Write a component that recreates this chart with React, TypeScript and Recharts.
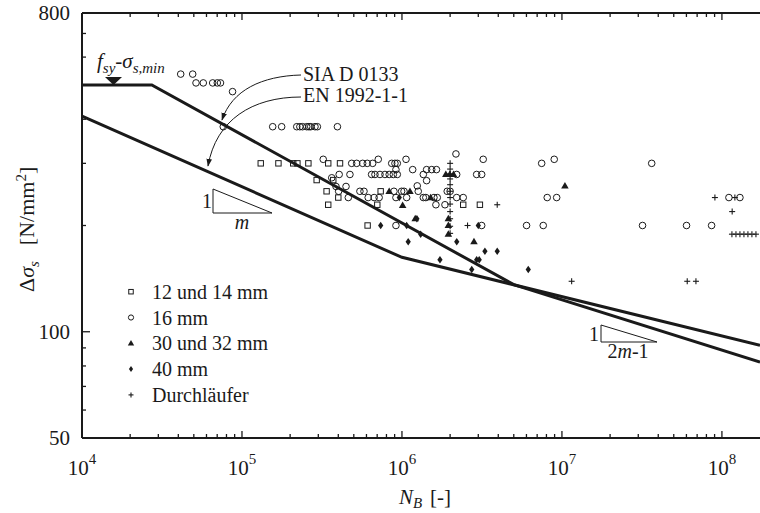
import React from "react";
import { ScatterChart, Scatter, XAxis, YAxis } from "recharts";

// fatigue tests: N_B [-] against stress range [N/mm2]
const squares12_14 = [
  { n: 131000, s: 300 }, { n: 169000, s: 300 }, { n: 209000, s: 300 }, { n: 222000, s: 300 },
  { n: 260000, s: 300 }, { n: 346000, s: 300 }, { n: 410000, s: 300 },
  { n: 293000, s: 269 }, { n: 372000, s: 269 },
  { n: 338000, s: 250 }, { n: 400000, s: 240 }, { n: 346000, s: 229 },
  { n: 736000, s: 250 }, { n: 701000, s: 229 }, { n: 610000, s: 200 },
  { n: 2415000, s: 229 }, { n: 3070000, s: 229 },
];

const circles16 = [
  { n: 41400, s: 537 }, { n: 49200, s: 537 },
  { n: 51600, s: 507 }, { n: 57300, s: 507 }, { n: 65600, s: 507 }, { n: 70100, s: 507 }, { n: 73400, s: 507 },
  { n: 87300, s: 479 }, { n: 76400, s: 381 },
  { n: 155600, s: 381 }, { n: 177000, s: 381 }, { n: 220000, s: 381 }, { n: 230000, s: 381 },
  { n: 239000, s: 381 }, { n: 254000, s: 381 }, { n: 262000, s: 381 }, { n: 269000, s: 381 },
  { n: 286000, s: 381 }, { n: 296000, s: 381 }, { n: 395000, s: 381 },
  { n: 322000, s: 308 }, { n: 711000, s: 308 }, { n: 1060000, s: 308 }, { n: 3220000, s: 308 },
  { n: 2175000, s: 319 }, { n: 8950000, s: 308 },
  { n: 485000, s: 300 }, { n: 521000, s: 300 }, { n: 568000, s: 300 }, { n: 607000, s: 300 },
  { n: 656000, s: 300 }, { n: 863000, s: 300 }, { n: 904000, s: 300 }, { n: 935000, s: 300 },
  { n: 7470000, s: 300 }, { n: 36400000, s: 300 },
  { n: 917000, s: 288 }, { n: 1167000, s: 288 }, { n: 1426000, s: 288 }, { n: 1534000, s: 288 }, { n: 1643000, s: 288 },
  { n: 1360000, s: 279 }, { n: 1426000, s: 268 },
  { n: 405000, s: 279 }, { n: 473000, s: 279 }, { n: 646000, s: 279 }, { n: 678000, s: 279 },
  { n: 729000, s: 279 }, { n: 783000, s: 279 }, { n: 832000, s: 279 }, { n: 883000, s: 279 },
  { n: 935000, s: 279 }, { n: 2198000, s: 279 }, { n: 2930000, s: 279 }, { n: 3150000, s: 279 },
  { n: 364000, s: 273 }, { n: 387000, s: 258 }, { n: 447000, s: 258 }, { n: 1246000, s: 259 },
  { n: 402000, s: 250 }, { n: 546000, s: 250 }, { n: 579000, s: 250 }, { n: 891000, s: 250 },
  { n: 995000, s: 250 }, { n: 1030000, s: 250 }, { n: 1264000, s: 250 }, { n: 1918000, s: 250 }, { n: 2000000, s: 250 },
  { n: 462000, s: 240 }, { n: 615000, s: 240 }, { n: 670000, s: 240 }, { n: 720000, s: 240 },
  { n: 917000, s: 240 }, { n: 1070000, s: 240 }, { n: 1360000, s: 240 }, { n: 1410000, s: 240 },
  { n: 1585000, s: 240 }, { n: 1662000, s: 240 }, { n: 2198000, s: 240 }, { n: 2415000, s: 240 },
  { n: 8090000, s: 240 }, { n: 9270000, s: 240 }, { n: 110600000, s: 240 }, { n: 129600000, s: 240 },
  { n: 1630000, s: 229 }, { n: 1857000, s: 229 },
  { n: 917000, s: 200 }, { n: 3150000, s: 200 }, { n: 6010000, s: 200 }, { n: 7640000, s: 200 },
  { n: 31900000, s: 200 }, { n: 60100000, s: 200 }, { n: 86200000, s: 200 },
];

const triangles30_32 = [
  { n: 832000, s: 250 }, { n: 1122000, s: 250 }, { n: 1510000, s: 240 }, { n: 1010000, s: 228 },
  { n: 1880000, s: 279 }, { n: 1990000, s: 279 }, { n: 2100000, s: 279 },
  { n: 1950000, s: 209 }, { n: 1950000, s: 200 }, { n: 1950000, s: 189 },
  { n: 2820000, s: 180 }, { n: 10440000, s: 259 }, { n: 1210000, s: 209 },
];

const diamonds40 = [
  { n: 962000, s: 240 }, { n: 736000, s: 200 }, { n: 1070000, s: 200 }, { n: 1309000, s: 189 },
  { n: 1094000, s: 180 }, { n: 2200000, s: 180 }, { n: 3300000, s: 169 }, { n: 3940000, s: 169 },
  { n: 1728000, s: 160 }, { n: 2930000, s: 160 }, { n: 3040000, s: 160 }, { n: 2730000, s: 150 },
  { n: 6160000, s: 150 }, { n: 3000000, s: 200 }, { n: 1240000, s: 209 },
];

const runOuts = [
  { n: 2000000, s: 300 }, { n: 2000000, s: 289 }, { n: 2000000, s: 280 }, { n: 2000000, s: 271 },
  { n: 2000000, s: 261 }, { n: 2000000, s: 250 }, { n: 2000000, s: 240 }, { n: 2000000, s: 230 },
  { n: 2000000, s: 219 }, { n: 2000000, s: 209 }, { n: 2000000, s: 199 }, { n: 2000000, s: 190 },
  { n: 2570000, s: 200 }, { n: 3940000, s: 229 },
  { n: 11500000, s: 139 }, { n: 60700000, s: 139 }, { n: 68800000, s: 139 },
  { n: 90400000, s: 240 }, { n: 120500000, s: 240 }, { n: 115900000, s: 219 },
  { n: 115500000, s: 189 }, { n: 122400000, s: 189 }, { n: 129600000, s: 189 }, { n: 137300000, s: 189 },
  { n: 145400000, s: 189 }, { n: 154000000, s: 189 }, { n: 163200000, s: 189 },
];

// design curves (corner points)
const siaCurve = [
  { n: 10000, s: 500 }, { n: 27300, s: 500 }, { n: 5000000, s: 136 }, { n: 173000000, s: 82 },
];
const enCurve = [
  { n: 10000, s: 408 }, { n: 1000000, s: 162.5 }, { n: 173000000, s: 91.5 },
];

const xDecades = [1e4, 1e5, 1e6, 1e7, 1e8];
const xSteps = [1, 2, 3, 4, 5, 6, 7, 8, 9];
const X_MAX = 173000000;
const xTicks = xDecades.flatMap((d) => xSteps.map((k) => k * d)).filter((v) => v <= X_MAX);
const yTicks = [50, 60, 70, 80, 90, 100, 200, 300, 400, 500, 600, 700, 800];
const yLabels = [50, 100, 800];

const legendItems = ["12 und 14 mm", "16 mm", "30 und 32 mm", "40 mm", "Durchläufer"];

const W = 760;
const H = 513;
// plot area: x 82..760, y 13..438
const PLOT_TOP = 13;
const PLOT_BOTTOM = 438;
const PLOT_LEFT = 82;
const X_AXIS_H = 40;
const TOP_AXIS_H = 2;
const Y_AXIS_W = 60;
const M = { top: PLOT_TOP - TOP_AXIS_H, right: 0, bottom: H - PLOT_BOTTOM - X_AXIS_H, left: PLOT_LEFT - Y_AXIS_W };
const INK = "#1a1a1a";
const FONT = "'Liberation Serif', 'Times New Roman', serif";

const isDecade = (v: number) => Math.abs(Math.log10(v) - Math.round(Math.log10(v))) < 1e-9;

const BottomTick = (props: any) => {
  const v = props.payload.value;
  const x = props.x;
  const major = isDecade(v);
  return (
    <g>
      <line x1={x} x2={x} y1={PLOT_BOTTOM} y2={PLOT_BOTTOM - (major ? 7 : 4)} stroke={INK} strokeWidth={1.3} />
      {major && (
        <text x={x} y={PLOT_BOTTOM + 37} textAnchor="middle" fontFamily={FONT} fontSize={21} fill={INK}>
          10<tspan dy={-11} fontSize={15}>{Math.round(Math.log10(v))}</tspan>
        </text>
      )}
    </g>
  );
};

const TopTick = (props: any) => {
  const major = isDecade(props.payload.value);
  return <line x1={props.x} x2={props.x} y1={PLOT_TOP} y2={PLOT_TOP + (major ? 7 : 4)} stroke={INK} strokeWidth={1.3} />;
};

const LeftTick = (props: any) => {
  const v = props.payload.value;
  const y = props.y;
  const labelled = yLabels.includes(v);
  return (
    <g>
      <line x1={PLOT_LEFT} x2={PLOT_LEFT + (labelled ? 8 : 4)} y1={y} y2={y} stroke={INK} strokeWidth={1.3} />
      {labelled && (
        <text x={PLOT_LEFT - 12} y={y + 7} textAnchor="end" fontFamily={FONT} fontSize={21} fill={INK}>
          {v}
        </text>
      )}
    </g>
  );
};

const Square = ({ cx, cy, size = 5.4 }: any) => (
  <rect x={cx - size / 2} y={cy - size / 2} width={size} height={size} fill="none" stroke={INK} strokeWidth={1} />
);
const Ring = ({ cx, cy, r = 3.3 }: any) => <circle cx={cx} cy={cy} r={r} fill="none" stroke={INK} strokeWidth={1} />;
const Tri = ({ cx, cy, h = 6.5 }: any) => (
  <path d={`M${cx},${cy - h * 0.6} L${cx + h * 0.58},${cy + h * 0.4} L${cx - h * 0.58},${cy + h * 0.4} Z`} fill={INK} />
);
const Diamond = ({ cx, cy, h = 7.5 }: any) => (
  <path d={`M${cx},${cy - h / 2} L${cx + h * 0.35},${cy} L${cx},${cy + h / 2} L${cx - h * 0.35},${cy} Z`} fill={INK} />
);
const Plus = ({ cx, cy, a = 3 }: any) => (
  <g stroke={INK} strokeWidth={1.1}>
    <line x1={cx - a} x2={cx + a} y1={cy} y2={cy} />
    <line x1={cx} x2={cx} y1={cy - a} y2={cy + a} />
  </g>
);
const NoDot = () => <g />;

const legendShapes = [
  (cx: number, cy: number) => <Square cx={cx} cy={cy} size={4.5} />,
  (cx: number, cy: number) => <Ring cx={cx} cy={cy} r={2.6} />,
  (cx: number, cy: number) => <Tri cx={cx} cy={cy} h={5.5} />,
  (cx: number, cy: number) => <Diamond cx={cx} cy={cy} h={6} />,
  (cx: number, cy: number) => <Plus cx={cx} cy={cy} a={2.5} />,
];

const Annotations = () => (
  <svg width={W} height={H} style={{ position: "absolute", left: 0, top: 0, pointerEvents: "none" }} fontFamily={FONT} fill={INK}>
    <defs>
      <marker id="arrowHead" viewBox="0 0 10 10" refX="9" refY="5" markerWidth="8" markerHeight="8" orient="auto">
        <path d="M0,1.5 L10,5 L0,8.5 Z" fill={INK} />
      </marker>
    </defs>

    <text x={97} y={68} fontSize={21}>
      <tspan fontStyle="italic">f</tspan>
      <tspan fontStyle="italic" fontSize={15} dy={5}>sy</tspan>
      <tspan dy={-5}>-</tspan>
      <tspan fontStyle="italic">σ</tspan>
      <tspan fontStyle="italic" fontSize={15} dy={5}>s,min</tspan>
    </text>
    <path d="M105,77 L122,77 L113.5,85 Z" fill={INK} />

    <text x={303} y={81} fontSize={20}>SIA D 0133</text>
    <text x={303} y={102} fontSize={20}>EN 1992-1-1</text>
    <path d="M301,75 C262,76 232,90 222,120" fill="none" stroke={INK} strokeWidth={1} markerEnd="url(#arrowHead)" />
    <path d="M301,97 C252,97 216,120 208,166" fill="none" stroke={INK} strokeWidth={1} markerEnd="url(#arrowHead)" />

    <path d="M213,189 L213,213 L272,213 Z" fill="none" stroke={INK} strokeWidth={1} />
    <text x={207} y={208} fontSize={20} textAnchor="middle">1</text>
    <text x={242} y={229} fontSize={20} fontStyle="italic" textAnchor="middle">m</text>

    <path d="M601,325 L601,342 L657,342 Z" fill="none" stroke={INK} strokeWidth={1} />
    <text x={594} y={341} fontSize={20} textAnchor="middle">1</text>
    <text x={628} y={358} fontSize={20} textAnchor="middle">
      2<tspan fontStyle="italic">m</tspan>-1
    </text>

    <g transform="translate(34,292) rotate(-90)">
      <text x={0} y={0} fontSize={22}>
        Δ<tspan fontStyle="italic">σ</tspan>
        <tspan fontStyle="italic" fontSize={15} dy={5}>s</tspan>
        <tspan dx={16} dy={-5}>[N/mm</tspan>
        <tspan fontSize={15} dy={-8}>2</tspan>
        <tspan dy={8}>]</tspan>
      </text>
    </g>
    <text x={425} y={504} fontSize={21} textAnchor="middle">
      <tspan fontStyle="italic">N</tspan>
      <tspan fontStyle="italic" fontSize={15} dy={4}>B</tspan>
      <tspan dx={8} dy={-4}>[-]</tspan>
    </text>

    {legendItems.map((label, i) => {
      const cy = 291.7 + i * 25.8;
      return (
        <g key={label}>
          {legendShapes[i](131, cy)}
          <text x={152} y={cy + 7} fontSize={20}>{label}</text>
        </g>
      );
    })}
  </svg>
);

const X_DOMAIN: [number, number] = [1e4, X_MAX];

export default function App() {
  return (
    <div style={{ position: "absolute", left: 0, top: 0, width: W, height: H, background: "#fff" }}>
      <ScatterChart width={W} height={H} margin={M}>
        <XAxis
          xAxisId="bottom"
          dataKey="n"
          type="number"
          scale="log"
          domain={X_DOMAIN}
          allowDataOverflow
          ticks={xTicks}
          interval={0}
          height={X_AXIS_H}
          axisLine={{ stroke: INK, strokeWidth: 2 }}
          tickLine={false}
          tick={(p: any) => <BottomTick {...p} />}
        />
        <XAxis
          xAxisId="top"
          orientation="top"
          dataKey="n"
          type="number"
          scale="log"
          domain={X_DOMAIN}
          allowDataOverflow
          ticks={xTicks}
          interval={0}
          height={TOP_AXIS_H}
          axisLine={{ stroke: INK, strokeWidth: 2 }}
          tickLine={false}
          tick={(p: any) => <TopTick {...p} />}
        />
        <YAxis
          dataKey="s"
          type="number"
          scale="log"
          domain={[50, 800]}
          allowDataOverflow
          ticks={yTicks}
          interval={0}
          width={Y_AXIS_W}
          axisLine={{ stroke: INK, strokeWidth: 2 }}
          tickLine={false}
          tick={(p: any) => <LeftTick {...p} />}
        />
        <Scatter xAxisId="top" data={enCurve} line={{ stroke: INK, strokeWidth: 3 }} shape={NoDot} isAnimationActive={false} />
        <Scatter xAxisId="bottom" data={siaCurve} line={{ stroke: INK, strokeWidth: 3 }} shape={NoDot} isAnimationActive={false} />
        <Scatter xAxisId="bottom" data={squares12_14} shape={(p: any) => <Square cx={p.cx} cy={p.cy} />} isAnimationActive={false} />
        <Scatter xAxisId="bottom" data={circles16} shape={(p: any) => <Ring cx={p.cx} cy={p.cy} />} isAnimationActive={false} />
        <Scatter xAxisId="bottom" data={triangles30_32} shape={(p: any) => <Tri cx={p.cx} cy={p.cy} />} isAnimationActive={false} />
        <Scatter xAxisId="bottom" data={diamonds40} shape={(p: any) => <Diamond cx={p.cx} cy={p.cy} />} isAnimationActive={false} />
        <Scatter xAxisId="bottom" data={runOuts} shape={(p: any) => <Plus cx={p.cx} cy={p.cy} />} isAnimationActive={false} />
      </ScatterChart>
      <Annotations />
    </div>
  );
}
